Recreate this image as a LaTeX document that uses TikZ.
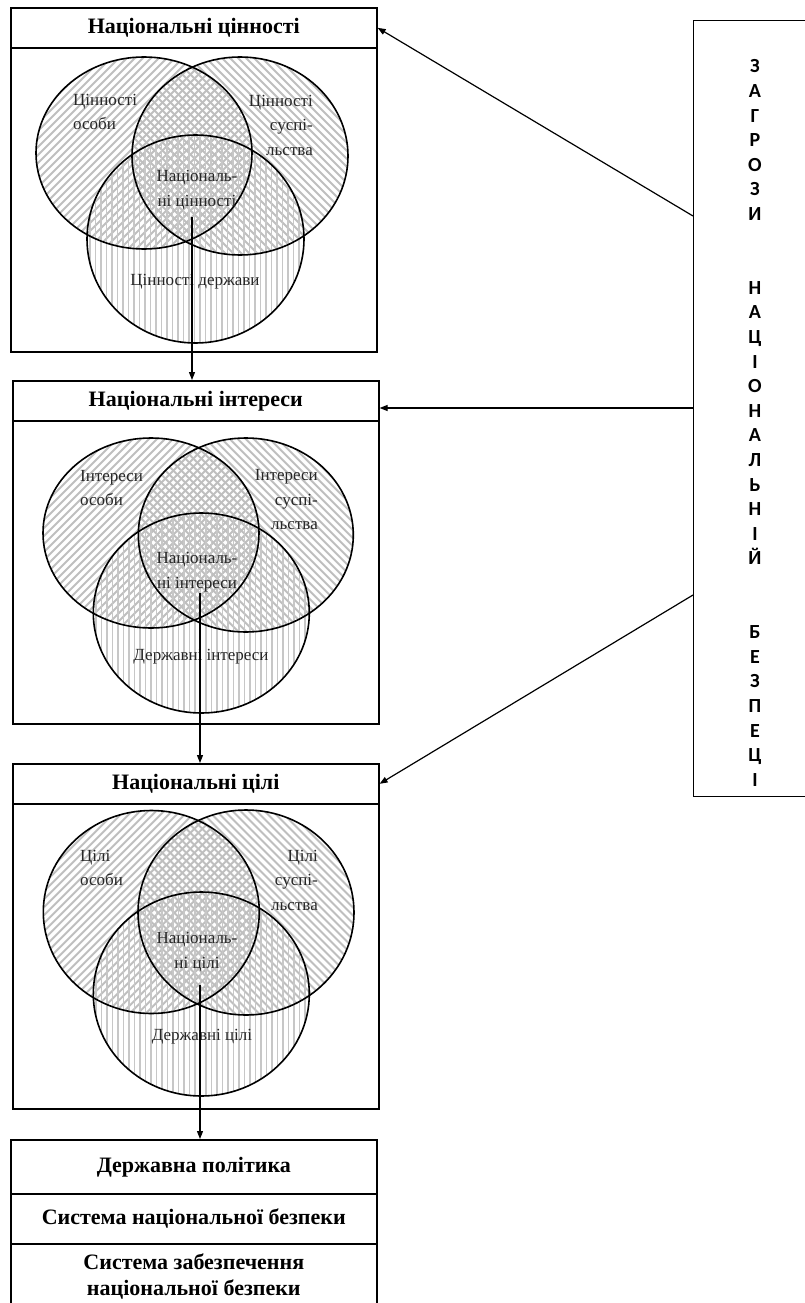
\documentclass[tikz,border=0pt]{standalone}
\usepackage{fontspec}
\setmainfont{Liberation Serif}
\newfontfamily\calibfont{Carlito}
\usetikzlibrary{arrows.meta}
\newcommand\myhatchL[3]{\begin{scope}\clip (#1) ellipse [x radius=#2pt, y radius=#3pt];
  \foreach \k in {-160,-152,...,160} {\draw[hatchdiag, shift={(#1)}] (\k-130,130) -- (\k+130,-130);}\end{scope}}
\newcommand\myhatchR[3]{\begin{scope}\clip (#1) ellipse [x radius=#2pt, y radius=#3pt];
  \foreach \k in {-160,-152,...,160} {\draw[hatchdiag, shift={(#1)}] (\k-130,-130) -- (\k+130,130);}\end{scope}}
\newcommand\myhatchV[3]{\begin{scope}\clip (#1) ellipse [x radius=#2pt, y radius=#3pt];
  \foreach \k in {-111,-105.5,...,111} {\draw[hatchvert, shift={(#1)}] (\k,-110) -- (\k,110);}\end{scope}}
\begin{document}
\begin{tikzpicture}[x=1pt,y=-1pt,
  box/.style={draw, line width=1.6pt, anchor=north west, inner sep=0pt},
  hdr/.style={box, font=\fontsize{22}{26}\selectfont\bfseries, align=center},
  lbl/.style={inner sep=0pt, font=\fontsize{17}{24.5}\selectfont, text=black!85},
  conn/.style={line width=1.2pt, -{Triangle[length=8pt,width=6pt]}},
  hatchdiag/.style={line width=2pt, draw=black!25},
  hatchvert/.style={line width=1.4pt, draw=black!22},
  ring/.style={draw, line width=1.6pt}]
\useasboundingbox (0,0) rectangle (805,1303);
\fill[white] (0,0) rectangle (805,1303);

% ---------- circle centres ----------
\coordinate (L1) at (144,153);   \coordinate (R1) at (240,156);   \coordinate (B1) at (195.5,239);
\coordinate (L2) at (151,533);   \coordinate (R2) at (245.8,535); \coordinate (B2) at (201.3,613);
\coordinate (L3) at (151.3,912); \coordinate (R3) at (246,912.5); \coordinate (B3) at (201.3,994);

% ---------- hatching ----------
\myhatchL{L1}{108}{96}  \myhatchR{R1}{108}{99}  \myhatchV{B1}{108.5}{104}
\myhatchL{L2}{108}{95}  \myhatchR{R2}{107.5}{97} \myhatchV{B2}{108}{100}
\myhatchL{L3}{108}{101.5} \myhatchR{R3}{108}{102.5} \myhatchV{B3}{108}{102}

% ---------- circle outlines ----------
\draw[ring] (L1) ellipse [x radius=108pt, y radius=96pt];
\draw[ring] (R1) ellipse [x radius=108pt, y radius=99pt];
\draw[ring] (B1) ellipse [x radius=108.5pt, y radius=104pt];
\draw[ring] (L2) ellipse [x radius=108pt, y radius=95pt];
\draw[ring] (R2) ellipse [x radius=107.5pt, y radius=97pt];
\draw[ring] (B2) ellipse [x radius=108pt, y radius=100pt];
\draw[ring] (L3) ellipse [x radius=108pt, y radius=101.5pt];
\draw[ring] (R3) ellipse [x radius=108pt, y radius=102.5pt];
\draw[ring] (B3) ellipse [x radius=108pt, y radius=102pt];

% ---------- panels ----------
\node[box, minimum width=366pt, minimum height=344pt] (p1) at (10,7) {};
\node[hdr, minimum width=366pt, minimum height=40pt] (h1) at (10,7) {Національні цінності};
\node[box, minimum width=366pt, minimum height=343pt] (p2) at (12,380) {};
\node[hdr, minimum width=366pt, minimum height=40pt] (h2) at (12,380) {Національні інтереси};
\node[box, minimum width=366pt, minimum height=345pt] (p3) at (12,763) {};
\node[hdr, minimum width=366pt, minimum height=40pt] (h3) at (12,763) {Національні цілі};

% ---------- labels ----------
\node[lbl, align=left, anchor=west] (a1) at (73,112) {Цінності\\особи};
\node[lbl, align=right, anchor=east] (c1) at (313,125) {Цінності\\суспі-\\льства};
\node[lbl, align=center] (n1) at (197,190) {Національ-\\ні цінності};
\node[lbl] (d1) at (195,282) {Цінності держави};

\node[lbl, align=left, anchor=west] (a2) at (80,488) {Інтереси\\особи};
\node[lbl, align=right, anchor=east] (c2) at (318,500) {Інтереси\\суспі-\\льства};
\node[lbl, align=center] (n2) at (197,572) {Національ-\\ні інтереси};
\node[lbl] (d2) at (201,657) {Державні інтереси};

\node[lbl, align=left, anchor=west] (a3) at (80,868) {Цілі\\особи};
\node[lbl, align=right, anchor=east] (c3) at (318,880) {Цілі\\суспі-\\льства};
\node[lbl, align=center] (n3) at (197,952) {Національ-\\ні цілі};
\node[lbl] (d3) at (202,1037) {Державні цілі};

% ---------- bottom boxes ----------
\node[hdr, minimum width=366pt, minimum height=54pt] (b1) at (10,1139) {Державна політика};
\node[hdr, minimum width=366pt, minimum height=50pt] (b2) at (10,1193) {Система національної безпеки};
\node[hdr, minimum width=366pt, minimum height=65pt] (b3) at (10,1243) {Система забезпечення\\національної безпеки};

% ---------- threats box ----------
\node[box, line width=1.4pt, minimum width=116pt, minimum height=776pt] (thr) at (693,20) {};
\node[inner sep=0pt, align=center, font=\calibfont\bfseries\fontsize{20}{24.6}\selectfont] (thrtxt) at (755,423)
 {З\\А\\Г\\Р\\О\\З\\И\\~\\~\\Н\\А\\Ц\\І\\О\\Н\\А\\Л\\Ь\\Н\\І\\Й\\~\\~\\Б\\Е\\З\\П\\Е\\Ц\\І};

% ---------- connectors ----------
\coordinate (s1) at (192,217);
\coordinate (s2) at (200,593);
\coordinate (s3) at (200,985);
\draw[conn] (s1) -- (s1 |- p2.north);
\draw[conn] (s2) -- (s2 |- p3.north);
\draw[conn] (s3) -- (s3 |- b1.north);

\coordinate (t1) at (693,216);
\coordinate (t2) at (693,408);
\coordinate (t3) at (693,595);
\draw[conn] (t1) -- (h1.east);
\draw[conn] (t2) -- (t2 -| h2.east);
\draw[conn] (t3) -- (h3.east);
\end{tikzpicture}
\end{document}
